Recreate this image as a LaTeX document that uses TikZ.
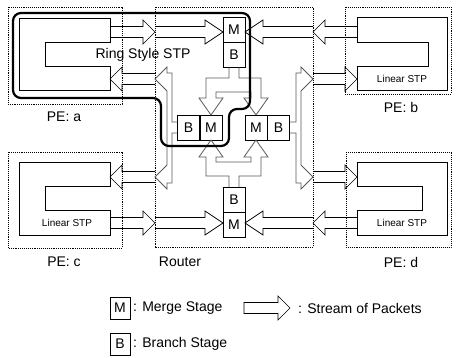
\documentclass[tikz,border=0pt]{standalone}
\usepackage{fontspec}
\setmainfont{Liberation Sans}
\newcommand{\arR}[4]{\draw[blk] (#1,#3-5.5) -- (#2-#4,#3-5.5) -- (#2-#4,#3-12) -- (#2,#3) -- (#2-#4,#3+12) -- (#2-#4,#3+5.5) -- (#1,#3+5.5);}
\newcommand{\arL}[4]{\draw[blk] (#1,#3-5.5) -- (#2+#4,#3-5.5) -- (#2+#4,#3-12) -- (#2,#3) -- (#2+#4,#3+12) -- (#2+#4,#3+5.5) -- (#1,#3+5.5);}
\begin{document}
\begin{tikzpicture}[x=1pt,y=-1pt,
  pe/.style={draw, densely dotted, line width=0.9pt},
  stp/.style={draw, line width=1pt},
  blk/.style={draw, line width=0.7pt, line join=miter},
  frk/.style={draw=black!65, line width=0.8pt},
  stage/.style={draw, line width=0.8pt, minimum width=22pt, minimum height=25pt, inner sep=0pt, font=\fontsize{14}{16}\selectfont},
  lstage/.style={draw, line width=0.8pt, minimum width=20pt, minimum height=22pt, inner sep=0pt, font=\fontsize{14}{16}\selectfont},
  lbl/.style={font=\fontsize{14}{16}\selectfont, inner sep=0pt},
  small/.style={font=\fontsize{10}{12}\selectfont, inner sep=0pt},
  ring/.style={draw, line width=2.2pt, rounded corners=8pt}]
\useasboundingbox (0,0) rectangle (456,358);

% dotted enclosures
\draw[pe] (8,7) rectangle (122,104);
\draw[pe] (345,7) rectangle (451,94);
\draw[pe] (8,152) rectangle (122,248);
\draw[pe] (346,152) rectangle (451,247);
\draw[pe] (155,7) rectangle (313,247);

% STP shapes
\draw[stp] (110,19) -- (19,19) -- (19,91) -- (110,91) -- (110,67) -- (45,67) -- (45,43) -- (110,43) -- cycle;
\draw[stp] (357,18) -- (447,18) -- (447,91) -- (357,91) -- (357,67) -- (428,67) -- (428,43) -- (357,43) -- cycle;
\draw[stp] (110,163) -- (19,163) -- (19,236) -- (110,236) -- (110,211) -- (45,211) -- (45,187) -- (110,187) -- cycle;
\draw[stp] (357,163) -- (447,163) -- (447,236) -- (357,236) -- (357,211) -- (422,211) -- (422,187) -- (357,187) -- cycle;
\node[small] (lsb) at (402,79) {Linear STP};
\node[small] (lsc) at (67,223) {Linear STP};
\node[small] (lsd) at (402,223) {Linear STP};

% labels
\node[lbl] (pea) at (64,117) {PE: a};
\node[lbl] (peb) at (401,107) {PE: b};
\node[lbl] (pec) at (64,262) {PE: c};
\node[lbl] (ped) at (401,262) {PE: d};
\node[lbl] (rtr) at (180,262) {Router};

% stages
\node[stage] (mT) at (234,30) {M};
\node[stage] (bT) at (234,55) {B};
\node[stage] (bL) at (188.5,127.5) {B};
\node[stage] (mL) at (211,127.5) {M};
\node[stage] (mR) at (256,127.5) {M};
\node[stage] (bR) at (278.5,127.5) {B};
\node[stage] (bB) at (234,199.5) {B};
\node[stage] (mB) at (234,224.5) {M};

% external streams
\arR{110}{155}{32}{12}
\arL{155}{110}{79}{12}
\arL{357}{313}{32}{12}
\arR{313}{357}{79}{12}
\arL{155}{110}{177}{12}
\arR{110}{155}{223}{12}
\arR{313}{357}{177}{12}
\arL{357}{313}{223}{12}

% internal streams into merge stages
\arR{155}{223}{32}{18}
\arL{313}{245}{32}{18}
\arR{155}{223}{223}{18}
\arL{313}{245}{223}{18}

% forks from branch stages
\draw[frk] (229,67.5) -- (229,78) -- (206,78) -- (206,98) -- (199,98) -- (211,115) -- (223,98) -- (216,98) -- (216,92) -- (251,92) -- (251,98) -- (244,98) -- (256,115) -- (268,98) -- (261,98) -- (261,78) -- (239,78) -- (239,67.5);
\draw[frk] (229,187) -- (229,176) -- (206,176) -- (206,157) -- (199,157) -- (211,140) -- (223,157) -- (216,157) -- (216,162) -- (251,162) -- (251,157) -- (244,157) -- (256,140) -- (268,157) -- (261,157) -- (261,176) -- (239,176) -- (239,187);
\draw[frk] (177.5,122) -- (172,122) -- (172,73) -- (167,73) -- (167,67) -- (155,79) -- (167,91) -- (167,165) -- (155,177) -- (167,189) -- (167,183) -- (172,183) -- (172,133) -- (177.5,133);
\draw[frk] (289.5,122) -- (296,122) -- (296,73) -- (301,73) -- (301,67) -- (313,79) -- (301,91) -- (301,165) -- (313,177) -- (301,189) -- (301,183) -- (296,183) -- (296,133) -- (289.5,133);

% ring
\draw[ring] (13,98) -- (13,13) -- (250,13) -- (250,109) -- (229,109) -- (229,146) -- (161,146) -- (161,98) -- cycle;
\node[lbl] (rs) at (143,55) {Ring Style STP};

% legend
\node[lstage] (lm) at (120,308) {M};
\node[lbl, anchor=west] (lmt) at (133,308) {: Merge Stage};
\node[lstage] (lb) at (120,344) {B};
\node[lbl, anchor=west] (lbt) at (133,344) {: Branch Stage};
\draw[blk] (244,302.5) -- (278,302.5) -- (278,296) -- (290,308) -- (278,320) -- (278,313.5) -- (244,313.5) -- cycle;
\node[lbl, anchor=west] (lst) at (298,308) {: Stream of Packets};
\end{tikzpicture}
\end{document}
